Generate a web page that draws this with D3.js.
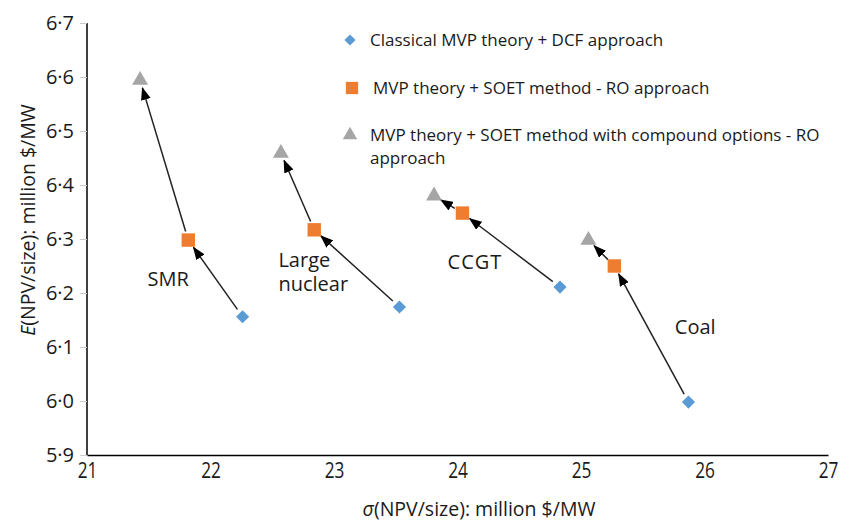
<!DOCTYPE html>
<html>
<head>
<meta charset="utf-8">
<script src="https://cdn.jsdelivr.net/npm/d3@7"></script>
<style>
  body { margin: 0; background: #fff; }
  text { font-family: "Open Sans", sans-serif; fill: #1a1a1a; }
</style>
</head>
<body>
<div id="vis"></div>
<script>
// values
var techs = ["SMR", "Large nuclear", "CCGT", "Coal"];
var dcfSigma = [22.26, 23.53, 24.83, 25.87];
var dcfMean = [6.156, 6.174, 6.211, 5.998];
var roSigma = [21.82, 22.84, 24.04, 25.27];
var roMean = [6.298, 6.317, 6.348, 6.250];
var compSigma = [21.43, 22.57, 23.81, 25.06];
var compMean = [6.594, 6.459, 6.380, 6.298];

// label anchors (data units)
var labelSigma = [21.49, 22.55, 23.92, 25.76];
var labelMean = [6.213, 6.248, 6.244, 6.124];

var xTicks = [21, 22, 23, 24, 25, 26, 27];
var yTicks = [5.9, 6.0, 6.1, 6.2, 6.3, 6.4, 6.5, 6.6, 6.7];

var seriesNames = [
  "Classical MVP theory + DCF approach",
  "MVP theory + SOET method - RO approach",
  "MVP theory + SOET method with compound options - RO"
];

var width = 843, height = 525;
var margin = {top: 23, right: 15, bottom: 70, left: 87};

var svg = d3.select("#vis").append("svg")
  .attr("width", width)
  .attr("height", height);

var x = d3.scaleLinear().domain([21, 27]).range([margin.left, 828]);
var y = d3.scaleLinear().domain([5.9, 6.7]).range([455, margin.top]);

var fmt = function(d) { return d3.format(".1f")(d).replace(".", "\u00b7"); };

// arrowhead
svg.append("defs").append("marker")
  .attr("id", "arrow")
  .attr("viewBox", "0 0 13 10")
  .attr("refX", 12)
  .attr("refY", 5)
  .attr("markerWidth", 13)
  .attr("markerHeight", 10)
  .attr("markerUnits", "userSpaceOnUse")
  .attr("orient", "auto")
  .append("path")
  .attr("d", "M0,0 L13,5 L0,10 Z")
  .attr("fill", "#000");

// y axis
var yAxis = svg.append("g")
  .attr("transform", "translate(" + margin.left + ",0)")
  .call(d3.axisLeft(y).tickValues(yTicks).tickFormat(fmt).tickSize(7).tickPadding(6));
yAxis.select(".domain").attr("stroke", "#000").attr("stroke-width", 1.5).attr("d", "M0," + y(6.7) + "V" + y(5.9));
yAxis.selectAll(".tick line").attr("stroke", "#ccc");
yAxis.selectAll(".tick text").style("font-size", "20px");

// x axis
var xAxis = svg.append("g")
  .attr("transform", "translate(0," + y(5.9) + ")")
  .call(d3.axisBottom(x).tickValues(xTicks).tickFormat(d3.format("d")).tickSize(0).tickPadding(8));
xAxis.select(".domain").attr("stroke", "#000").attr("stroke-width", 1.5);
xAxis.selectAll(".tick text")
  .style("font-size", "21px")
  .attr("transform", "scale(0.82,1)");

// axis titles
svg.append("text")
  .attr("x", 479).attr("y", 516)
  .attr("text-anchor", "middle")
  .style("font-size", "19.5px")
  .html('<tspan font-style="italic">\u03c3</tspan>(NPV/size): million $/MW');

svg.append("text")
  .attr("transform", "translate(35,220) rotate(-90)")
  .attr("text-anchor", "middle")
  .style("font-size", "19.5px")
  .html('<tspan font-style="italic">E</tspan>(NPV/size): million $/MW');

// arrows: DCF -> RO -> compound
function arrow(x0, y0, x1, y1, gapStart, gapEnd) {
  var dx = x1 - x0, dy = y1 - y0, len = Math.sqrt(dx * dx + dy * dy);
  var ux = dx / len, uy = dy / len;
  svg.append("line")
    .attr("x1", x0 + ux * gapStart).attr("y1", y0 + uy * gapStart)
    .attr("x2", x1 - ux * gapEnd).attr("y2", y1 - uy * gapEnd)
    .attr("stroke", "#222")
    .attr("stroke-width", 1.5)
    .attr("marker-end", "url(#arrow)");
}
techs.forEach(function(t, i) {
  arrow(x(dcfSigma[i]), y(dcfMean[i]), x(roSigma[i]), y(roMean[i]), 9, 9);
  arrow(x(roSigma[i]), y(roMean[i]), x(compSigma[i]), y(compMean[i]), 9, 8);
});

// markers
var diamond = d3.symbol().type(d3.symbolDiamond2).size(110);
var square = d3.symbol().type(d3.symbolSquare).size(180);
var triangle = d3.symbol().type(d3.symbolTriangle).size(110);

svg.selectAll(".dcf").data(techs).enter().append("path")
  .attr("class", "dcf")
  .attr("d", diamond)
  .attr("transform", function(d, i) { return "translate(" + x(dcfSigma[i]) + "," + y(dcfMean[i]) + ")"; })
  .attr("fill", "#5b9bd5");

svg.selectAll(".ro").data(techs).enter().append("path")
  .attr("class", "ro")
  .attr("d", square)
  .attr("transform", function(d, i) { return "translate(" + x(roSigma[i]) + "," + y(roMean[i]) + ")"; })
  .attr("fill", "#ed7d31");

svg.selectAll(".comp").data(techs).enter().append("path")
  .attr("class", "comp")
  .attr("d", triangle)
  .attr("transform", function(d, i) { return "translate(" + x(compSigma[i]) + "," + y(compMean[i]) + ")"; })
  .attr("fill", "#a5a5a5");

// technology labels
svg.selectAll(".tech").data(techs).enter().append("text")
  .attr("class", "tech")
  .attr("x", function(d, i) { return x(labelSigma[i]); })
  .attr("y", function(d, i) { return y(labelMean[i]); })
  .style("font-size", "20px")
  .style("letter-spacing", function(d) { return d === "CCGT" ? "1px" : null; })
  .each(function(d) {
    var words = d.split(" ");
    var el = d3.select(this);
    words.forEach(function(w, k) {
      el.append("tspan").attr("x", el.attr("x")).attr("dy", k ? 24 : 0).text(w);
    });
  });

// legend
var legend = svg.append("g");
var legendX = 350, legendY = [40, 88, 135];
var legendSymbols = [d3.symbol().type(d3.symbolDiamond2).size(80),
                     d3.symbol().type(d3.symbolSquare).size(150),
                     d3.symbol().type(d3.symbolTriangle).size(90)];
var legendColors = ["#5b9bd5", "#ed7d31", "#a5a5a5"];

seriesNames.forEach(function(name, i) {
  legend.append("path")
    .attr("d", legendSymbols[i])
    .attr("transform", "translate(" + (legendX + (i === 1 ? 2 : 0)) + "," + legendY[i] + ")")
    .attr("fill", legendColors[i]);
  legend.append("text")
    .attr("x", legendX + (i === 1 ? 23 : 20))
    .attr("y", legendY[i] + 6)
    .style("font-size", "17px")
    .text(name);
});
legend.append("text")
  .attr("x", legendX + 20)
  .attr("y", legendY[2] + 29)
  .style("font-size", "17px")
  .text("approach");
</script>
</body>
</html>
